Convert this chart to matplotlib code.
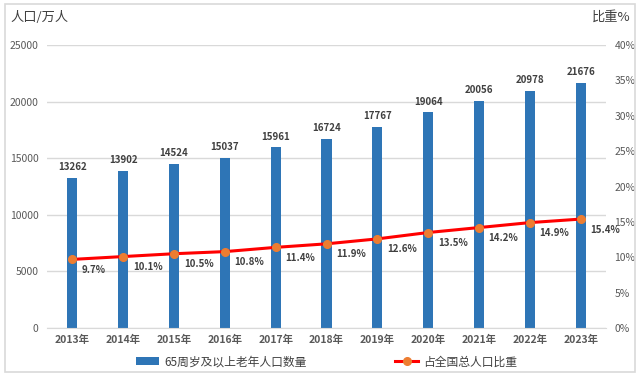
import numpy as np
import matplotlib
matplotlib.use("Agg")
import matplotlib.pyplot as plt
from matplotlib.patches import Rectangle

plt.rcParams["font.family"] = ["Noto Sans CJK SC", "DejaVu Sans"]

years = ["2013年", "2014年", "2015年", "2016年", "2017年", "2018年",
         "2019年", "2020年", "2021年", "2022年", "2023年"]
elderly = [13262, 13902, 14524, 15037, 15961, 16724, 17767, 19064, 20056, 20978, 21676]
share = [9.7, 10.1, 10.5, 10.8, 11.4, 11.9, 12.6, 13.5, 14.2, 14.9, 15.4]

bar_color = "#2e75b6"
line_color = "#ff0000"
marker_color = "#ed7d31"
grid_color = "#d9d9d9"
tick_color = "#595959"

fig = plt.figure(figsize=(6.4, 3.79), dpi=100)
fig.patches.append(Rectangle((0.008, 0.018), 0.984, 0.972, transform=fig.transFigure,
                             fill=False, edgecolor="#d9d9d9", linewidth=1.2))
ax1 = fig.add_axes([0.0734, 0.1346, 0.8736, 0.7464])
x = np.arange(len(years))

bars = ax1.bar(x, elderly, width=0.2, color=bar_color, zorder=2,
               label="65周岁及以上老年人口数量")
for xi, v in zip(x, elderly):
    ax1.annotate(str(v), (xi, v), xytext=(0, 4), textcoords="offset points",
                 ha="center", va="bottom", fontsize=7, fontweight="bold", color="#404040")

ax1.set_ylim(0, 25000)
ax1.set_yticks(np.arange(0, 25001, 5000))
ax1.set_xlim(-0.5, len(years) - 0.5)
ax1.set_xticks(x)
ax1.set_xticklabels(years, fontsize=7.5, fontweight="bold", color=tick_color)
ax1.tick_params(axis="y", labelsize=7.5, labelcolor=tick_color, length=0, pad=6)
ax1.tick_params(axis="x", length=0, pad=5)
ax1.yaxis.grid(True, color=grid_color, linewidth=1, zorder=0)
ax1.set_axisbelow(True)
for s in ["top", "left", "right"]:
    ax1.spines[s].set_visible(False)
ax1.spines["bottom"].set_color(grid_color)

ax2 = ax1.twinx()
ax2.plot(x, share, color=line_color, linewidth=2.2, marker="o", markersize=5.5,
         markerfacecolor=marker_color, markeredgecolor=marker_color, zorder=3,
         label="占全国总人口比重")
for xi, v in zip(x, share):
    ax2.annotate("%.1f%%" % v, (xi, v), xytext=(7, -4), textcoords="offset points",
                 ha="left", va="top", fontsize=7, fontweight="bold", color="#404040")
ax2.set_ylim(0, 40)
ax2.set_yticks(np.arange(0, 41, 5))
ax2.set_yticklabels(["%d%%" % t for t in range(0, 41, 5)])
ax2.tick_params(axis="y", labelsize=7.5, labelcolor=tick_color, length=0, pad=6)
for s in ["top", "left", "right", "bottom"]:
    ax2.spines[s].set_visible(False)

fig.text(0.016, 0.953, "人口/万人", fontsize=9.5, color="#404040", ha="left", va="center")
fig.text(0.985, 0.955, "比重%", fontsize=9.5, color="#404040", ha="right", va="center")

h1, l1 = ax1.get_legend_handles_labels()
h2, l2 = ax2.get_legend_handles_labels()
fig.legend(h1 + h2, l1 + l2, loc="center", bbox_to_anchor=(0.51, 0.045), ncol=2,
           frameon=False, fontsize=8.5, handlelength=2.0, handletextpad=0.4,
           columnspacing=7.5, labelcolor="#404040")

fig.savefig("out.png", dpi=100)
